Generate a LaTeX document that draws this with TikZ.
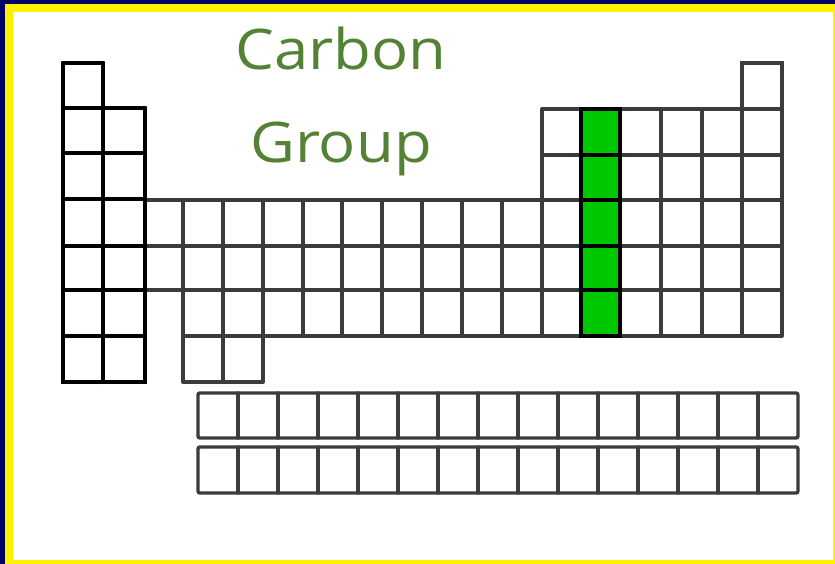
\documentclass[tikz,border=0pt]{standalone}
\usepackage{fontspec}
\newfontfamily\titlefont{Open Sans}
\definecolor{framenavy}{RGB}{0,0,102}
\definecolor{titlegreen}{RGB}{84,130,53}
\definecolor{gridgray}{RGB}{60,60,60}
\definecolor{groupgreen}{RGB}{0,200,0}
\begin{document}
\begin{tikzpicture}[x=1pt,y=-1pt,
  gridline/.style={draw=gridgray,line width=3.4pt,line cap=round},
  thickline/.style={draw=black,line width=4.4pt,line cap=round},
  titletext/.style={text=titlegreen,font=\titlefont\fontsize{56}{60}\selectfont,inner sep=0pt,anchor=base}]
\useasboundingbox (0,0) rectangle (835,564);
\fill[framenavy] (0,0) rectangle (835,564);
\fill[yellow] (5,4) rectangle (835,564);
\fill[white] (13,12) rectangle (833,560);
% main block rows 4-6
\foreach \y in {200,246,290} \draw[gridline] (145,\y) -- (782,\y);
\draw[gridline] (183,336) -- (782,336);
\foreach \x in {183,223,263} \draw[gridline] (\x,200) -- (\x,382);
\foreach \x in {303,342,382,422,462,502,542,581,620,661,702,742,782} \draw[gridline] (\x,200) -- (\x,336);
\draw[gridline] (183,382) -- (263,382);
% right block rows 1-3
\foreach \y in {109,155} \draw[gridline] (542,\y) -- (782,\y);
\foreach \x in {542,581,620,661,702,742,782} \draw[gridline] (\x,109) -- (\x,200);
\draw[gridline] (742,109) -- (742,63) -- (782,63) -- (782,109);
% carbon group column
\fill[groupgreen] (581,109) rectangle (620,336);
\foreach \y in {155,200,246,290} \draw[thickline] (581,\y) -- (620,\y);
\draw[thickline,line cap=butt] (581,109) rectangle (620,336);
% groups 1 and 2
\draw[thickline] (63,63) -- (103,63);
\draw[thickline] (63,63) -- (63,382) -- (145,382) -- (145,108);
\draw[thickline] (103,63) -- (103,382);
\foreach \y in {108,153,199,246,290,336} \draw[thickline] (63,\y) -- (145,\y);
% lanthanides and actinides
\foreach \ya/\yb in {393/438,447/493} {
  \draw[gridline,rounded corners=2pt] (198,\ya) rectangle (798,\yb);
  \foreach \x in {238,278,...,758} \draw[gridline] (\x,\ya) -- (\x,\yb);
}
% title
\node[titletext] (carbon) at (341,70) {\scalebox{1.1}[1]{Carbon}};
\node[titletext] (group) at (341,163) {\scalebox{1.1}[1]{Group}};
\end{tikzpicture}
\end{document}
